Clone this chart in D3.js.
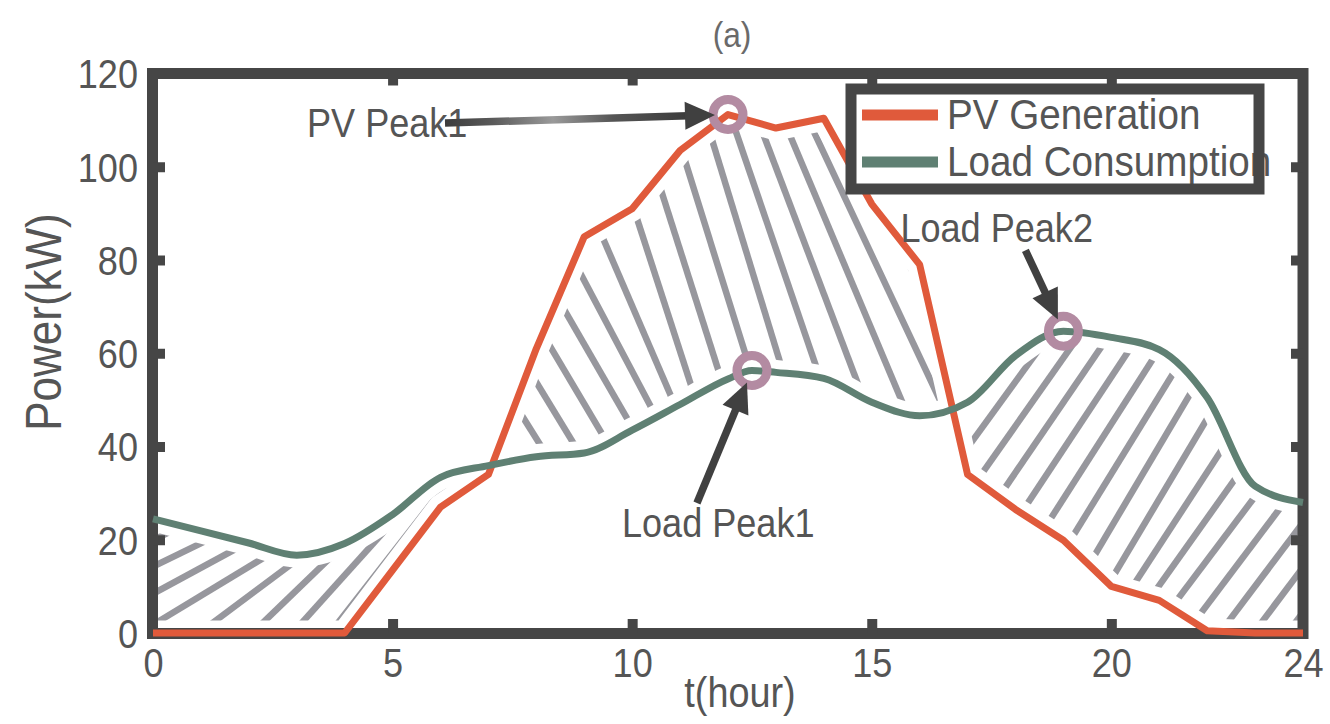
<!DOCTYPE html>
<html>
<head>
<meta charset="utf-8">
<script src="https://cdn.jsdelivr.net/npm/d3@7"></script>
<style>
  html, body { margin: 0; padding: 0; background: #fff; }
  svg { display: block; }
  text { font-family: "Liberation Sans", Arial, sans-serif; }
</style>
</head>
<body>
<svg id="chart" width="1330" height="724"></svg>
<script>
// ---- data ----
const hours = d3.range(0, 25);
const pvGeneration = [0, 0, 0, 0, 0, 13.5, 27, 34, 61, 85, 91, 103.5, 111.2, 108.3, 110.4, 92, 79, 34, 26.5, 19.9, 10, 7, 0.5, 0, 0];
const loadHours = [0, 1, 2, 3, 4, 5, 6, 7, 8, 9, 10, 11, 12, 12.5, 13, 14, 15, 16, 17, 18, 19, 20, 21, 22, 23, 24];
const loadConsumption = [24.5, 21.9, 19.3, 16.7, 19.2, 25.4, 33.4, 35.9, 37.8, 38.6, 43.5, 49, 54.5, 56.3, 55.9, 54.6, 49.5, 46.6, 49.5, 59.5, 64.7, 63.4, 60.8, 50.5, 31.5, 28];
const seriesNames = ["PV Generation", "Load Consumption"];
const xTicks = [0, 5, 10, 15, 20, 24];
const yTicks = [0, 20, 40, 60, 80, 100, 120];
const peakLabels = ["PV Peak1", "Load Peak1", "Load Peak2"];
const peakSeries = ["pv", "load", "load"];
const peakHours = [12, 12.5, 19];

// ---- layout / style ----
const C = { pv: "#e05a3b", load: "#5f8073", frame: "#464646", text: "#555", hatch: "#97979d", ring: "#b38ba2", arrow: "#404040" };
const SX = 0.88; // narrow type

const svg = d3.select("#chart");
const x = d3.scaleLinear().domain([0, 24]).range([153, 1303]);
const y = d3.scaleLinear().domain([0, 120]).range([633, 73.5]);

function interp(xs, ys, t) {
  const i = d3.bisectRight(xs, t) - 1;
  if (i < 0) return ys[0];
  if (i >= xs.length - 1) return ys[ys.length - 1];
  const f = (t - xs[i]) / (xs[i + 1] - xs[i]);
  return ys[i] + f * (ys[i + 1] - ys[i]);
}
const pvAt = t => interp(hours, pvGeneration, t);
const loadAt = t => interp(loadHours, loadConsumption, t);
const grid = Array.from(new Set([...hours, ...loadHours])).sort((a, b) => a - b);

// hours where the two curves cross
const crossings = [];
for (let i = 0; i < grid.length - 1; i++) {
  const a = grid[i], b = grid[i + 1];
  const da = pvAt(a) - loadAt(a), db = pvAt(b) - loadAt(b);
  if (da * db < 0) crossings.push(a + (b - a) * da / (da - db));
}

function bandPoints(t0, t1) {
  const ts = [t0, ...grid.filter(t => t > t0 && t < t1), t1];
  return ts.map(t => ({ t, pv: pvAt(t), load: loadAt(t) }));
}
const band = d3.area().x(d => x(d.t)).y0(d => y(d.load)).y1(d => y(d.pv));

// hatch regions: angle keyframes (hour at reference level, degrees)
const regions = [
  { t0: 0, t1: crossings[0], ref: 9.2, dir: -1, spacing: 24,
    keys: [[-1, 26], [0.4, 29], [1.5, 32], [2.2, 37], [3, 44], [3.6, 47], [4.2, 52]] },
  { t0: crossings[0], t1: crossings[1], ref: 71.3, dir: 1, spacing: 31,
    keys: [[6.2, 58], [8.5, 60], [9.5, 63], [10.6, 72], [12.7, 73], [14.5, 68], [16, 63]] },
  { t0: crossings[1], t1: 24, ref: 32.7, dir: -1, spacing: 27,
    keys: [[16.5, 54], [19, 57], [21, 60], [23, 53]] }
];

const defs = svg.append("defs");
const hatchLayer = svg.append("g");
regions.forEach((r, i) => {
  const id = "band" + i;
  defs.append("clipPath").attr("id", id)
    .append("path").attr("d", band(bandPoints(r.t0, r.t1)));
  const g = hatchLayer.append("g").attr("clip-path", `url(#${id})`);
  const ang = d3.scaleLinear()
    .domain(r.keys.map(k => x(k[0])))
    .range(r.keys.map(k => k[1]))
    .clamp(true);
  const yRef = y(r.ref);
  const L = 600;
  const step = p => r.spacing / Math.sin(ang(p) * Math.PI / 180);
  const starts = [];
  let q = x(r.keys[0][0]);
  while (q > x(r.t0) - 350) { starts.unshift(q); q -= step(q); }
  let p = x(r.keys[0][0]) + step(x(r.keys[0][0]));
  while (p < x(r.t1) + 350) { starts.push(p); p += step(p); }
  starts.forEach(s0 => {
    const a = ang(s0) * Math.PI / 180;
    const c = Math.cos(a), s = Math.sin(a) * r.dir;
    g.append("line")
      .attr("x1", s0 - c * L).attr("y1", yRef - s * L)
      .attr("x2", s0 + c * L).attr("y2", yRef + s * L)
      .attr("stroke", C.hatch).attr("stroke-width", 6.5);
  });
});

// series
const pvData = hours.map((t, i) => ({ t, v: pvGeneration[i] }));
const loadData = loadHours.map((t, i) => ({ t, v: loadConsumption[i] }));
const pvLine = d3.line().x(d => x(d.t)).y(d => y(d.v));
const loadLine = d3.line().x(d => x(d.t)).y(d => y(d.v)).curve(d3.curveMonotoneX);

// white clearance so the hatching stops short of the curves
[[pvLine, pvData], [loadLine, loadData]].forEach(([ln, d]) => {
  svg.append("path").attr("d", ln(d)).attr("fill", "none")
    .attr("stroke", "#fff").attr("stroke-width", 25)
    .attr("stroke-linejoin", "round").attr("stroke-linecap", "round");
});

// frame
const [xL, xR] = x.range();
const [yB, yT] = y.range();
svg.append("rect")
  .attr("x", xL - 0.5).attr("y", yT)
  .attr("width", xR - xL + 0.5).attr("height", yB - yT + 0.5)
  .attr("fill", "none").attr("stroke", C.frame).attr("stroke-width", 11);

// axes
function styleTicks(g) {
  g.select(".domain").remove();
  g.selectAll(".tick line").attr("stroke", C.frame).attr("stroke-width", 10);
}
const inner = xTicks.filter(v => v > 0 && v < 24);
const innerY = yTicks.filter(v => v > 0 && v < 120);

const gx = svg.append("g").attr("transform", `translate(0,${yB})`)
  .call(d3.axisBottom(x).tickValues(xTicks).tickSizeInner(-14).tickSizeOuter(0).tickFormat(d3.format("d")))
  .call(styleTicks);
gx.selectAll(".tick").filter(d => d === 0 || d === 24).select("line").remove();
gx.selectAll(".tick text")
  .attr("y", 44).attr("dy", null)
  .attr("fill", C.text).attr("font-size", 41)
  .attr("transform", `scale(${SX},1)`);

svg.append("g").attr("transform", `translate(0,${yT})`)
  .call(d3.axisTop(x).tickValues(inner).tickSizeInner(-12).tickSizeOuter(0).tickFormat(""))
  .call(styleTicks);

const gy = svg.append("g").attr("transform", `translate(${xL},0)`)
  .call(d3.axisLeft(y).tickValues(yTicks).tickSizeInner(-12).tickSizeOuter(0).tickFormat(d3.format("d")))
  .call(styleTicks);
gy.selectAll(".tick").filter(d => d === 0 || d === 120).select("line").remove();
gy.selectAll(".tick text")
  .attr("x", null).attr("dy", "0.35em")
  .attr("fill", C.text).attr("font-size", 41)
  .attr("text-anchor", "end")
  .attr("transform", `translate(-15,0) scale(${SX},1)`);

svg.append("g").attr("transform", `translate(${xR},0)`)
  .call(d3.axisRight(y).tickValues(innerY).tickSizeInner(-12).tickSizeOuter(0).tickFormat(""))
  .call(styleTicks);

// curves
svg.append("path").attr("d", pvLine(pvData)).attr("fill", "none")
  .attr("stroke", C.pv).attr("stroke-width", 7).attr("stroke-linejoin", "round");
svg.append("path").attr("d", loadLine(loadData)).attr("fill", "none")
  .attr("stroke", C.load).attr("stroke-width", 7).attr("stroke-linejoin", "round");

// text helper
function label(g, px, py, str, size, opts = {}) {
  const sx = opts.sx || SX;
  return g.append("text")
    .attr("transform", `translate(${px},${py})${opts.rotate ? ` rotate(${opts.rotate})` : ""} scale(${sx},1)`)
    .attr("text-anchor", opts.anchor || "start")
    .attr("font-size", size)
    .attr("fill", opts.fill || C.text)
    .text(str);
}

// peaks: ring marker, label and arrow
const peaks = peakLabels.map((name, i) => {
  const t = peakHours[i];
  const v = peakSeries[i] === "pv" ? pvAt(t) : loadAt(t);
  return { name, t, v };
});
// label / arrow-tail offsets from the peak point, in pixels
const peakLayout = [
  { text: [-421, 22.5], tail: [-283, 8.5], grad: true },
  { text: [-130, 166.5], tail: [-55, 132.5], grad: false },
  { text: [-163, -89], tail: [-38, -81], grad: false }
];

const grad = defs.append("linearGradient").attr("id", "shaftFade").attr("gradientUnits", "userSpaceOnUse");
[[0, "#3c3c3c"], [0.2, "#5a5a5a"], [0.45, "#9a9a9a"], [0.7, "#555"], [1, "#3c3c3c"]]
  .forEach(([o, c]) => grad.append("stop").attr("offset", o).attr("stop-color", c));

const annot = svg.append("g");
peaks.forEach(p => {
  annot.append("circle").attr("cx", x(p.t)).attr("cy", y(p.v)).attr("r", 15)
    .attr("fill", "none").attr("stroke", C.ring).attr("stroke-width", 9);
});
peaks.forEach((p, i) => {
  const px = x(p.t), py = y(p.v), lay = peakLayout[i];
  label(annot, px + lay.text[0], py + lay.text[1], p.name, 41);
  const x0 = px + lay.tail[0], y0 = py + lay.tail[1];
  const dx = px - x0, dy = py - y0, len = Math.hypot(dx, dy);
  const ux = dx / len, uy = dy / len, nx = -uy, ny = ux;
  const tipX = px - ux * 13, tipY = py - uy * 13;
  const bX = tipX - ux * 30, bY = tipY - uy * 30;
  if (lay.grad) grad.attr("x1", x0).attr("y1", y0).attr("x2", bX).attr("y2", bY);
  annot.append("line")
    .attr("x1", x0).attr("y1", y0).attr("x2", bX + ux * 3).attr("y2", bY + uy * 3)
    .attr("stroke", lay.grad ? "url(#shaftFade)" : C.arrow).attr("stroke-width", 7.5);
  annot.append("path")
    .attr("d", `M${tipX},${tipY}L${bX + nx * 14},${bY + ny * 14}L${bX - nx * 14},${bY - ny * 14}Z`)
    .attr("fill", C.arrow);
});

// legend
const lg = svg.append("g");
lg.append("rect").attr("x", 851).attr("y", 89).attr("width", 408).attr("height", 100).attr("fill", "#fff");
[C.pv, C.load].forEach((c, i) => {
  const ly = 115 + i * 47;
  lg.append("line").attr("x1", 862).attr("x2", 938).attr("y1", ly).attr("y2", ly)
    .attr("stroke", c).attr("stroke-width", 11);
  label(lg, 947, ly + 14, seriesNames[i], 42, { sx: 0.92 });
});
lg.append("rect").attr("x", 851).attr("y", 89).attr("width", 408).attr("height", 100)
  .attr("fill", "none").attr("stroke", C.frame).attr("stroke-width", 11);

// titles
label(svg, 732, 47, "(a)", 36, { anchor: "middle", fill: "#6a6a6a" });
label(svg, 740, 707, "t(hour)", 43, { anchor: "middle" });
label(svg, 61, 322, "Power(kW)", 50, { anchor: "middle", rotate: -90 });
</script>
</body>
</html>
